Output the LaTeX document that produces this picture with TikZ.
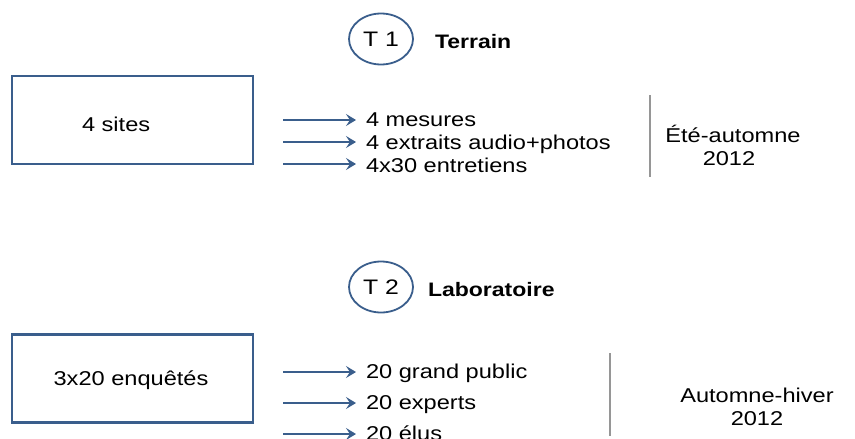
\documentclass[tikz,border=0pt]{standalone}
\usepackage{fontspec}
\setmainfont{Liberation Sans}[FakeStretch=1.18]
\usetikzlibrary{arrows.meta,shapes.geometric}
\definecolor{boxblue}{RGB}{58,94,140}
\definecolor{sepgrey}{RGB}{150,150,150}
\begin{document}
\begin{tikzpicture}[x=1pt,y=-1pt,
  every node/.style={inner sep=0pt,outer sep=0pt,font=\fontsize{20}{24}\selectfont},
  bigbox/.style={draw=boxblue,line width=2.4pt,minimum width=241pt,minimum height=88pt},
  tbubble/.style={draw=boxblue,line width=1.8pt,ellipse,minimum width=64pt,minimum height=51pt,font=\fontsize{21}{25}\selectfont},
  title/.style={font=\fontsize{19.5}{23}\selectfont\bfseries,anchor=base west},
  item/.style={anchor=base west},
  arr/.style={draw=boxblue,line width=2.2pt,-{Stealth[length=10pt,width=12pt,inset=4pt]},shorten >=10pt},
  sep/.style={draw=sepgrey,line width=1.4pt}]
\useasboundingbox (0,0) rectangle (855,439);
% ---------- T1 ----------
\node[tbubble] (t1) at (381,39) {T 1};
\node[title] (t1l) at (435,48) {Terrain};
\node[bigbox] (box1) at (132.5,120) {};
\node[anchor=base west] (box1l) at (82,131) {4 sites};
\coordinate (a11) at (283,120);
\coordinate (a12) at (283,142);
\coordinate (a13) at (283,164);
\node[item] (m11) at (366,126) {4 mesures};
\node[item] (m12) at (366,149) {4 extraits audio+photos};
\node[item] (m13) at (366,172) {4x30 entretiens};
\draw[arr] (a11) -- (a11 -| m11.west);
\draw[arr] (a12) -- (a12 -| m12.west);
\draw[arr] (a13) -- (a13 -| m13.west);
\coordinate (s1a) at (650,95);
\coordinate (s1b) at (650,177);
\draw[sep] (s1a) -- (s1b);
\node[anchor=base] (d11) at (733,142) {Été-automne};
\node[anchor=base] (d12) at (729,165) {2012};
% ---------- T2 ----------
\node[tbubble] (t2) at (381,287) {T 2};
\node[title] (t2l) at (428,296) {Laboratoire};
\node[bigbox] (box2) at (132.5,378.5) {};
\node[anchor=base] (box2l) at (131,385) {3x20 enquêtés};
\coordinate (a21) at (283,372);
\coordinate (a22) at (283,403);
\coordinate (a23) at (283,434);
\node[item] (m21) at (366,378) {20 grand public};
\node[item] (m22) at (366,409) {20 experts};
\node[item] (m23) at (366,440) {20 élus};
\draw[arr] (a21) -- (a21 -| m21.west);
\draw[arr] (a22) -- (a22 -| m22.west);
\draw[arr] (a23) -- (a23 -| m23.west);
\coordinate (s2a) at (610,353);
\coordinate (s2b) at (610,436);
\draw[sep] (s2a) -- (s2b);
\node[anchor=base] (d21) at (757,402) {Automne-hiver};
\node[anchor=base] (d22) at (757,425) {2012};
\end{tikzpicture}
\end{document}
